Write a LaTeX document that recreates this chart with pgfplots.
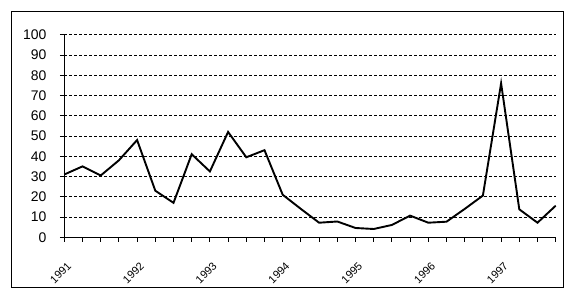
\documentclass[border=0pt]{standalone}
\usepackage{pgfplots}
\pgfplotsset{compat=1.18}
\usepackage{fontspec}
\setmainfont{Liberation Sans}
\begin{document}
\begin{tikzpicture}
\useasboundingbox (0,0) rectangle (573bp,298bp);
\draw[line width=1bp] (11.7bp,10.7bp) rectangle (563.3bp,286.3bp);
\begin{axis}[
 at={(64.3bp,60.7bp)}, anchor=south west,
 scale only axis, width=491.4bp, height=202.6bp,
 xmin=0, xmax=27, ymin=0, ymax=100,
 axis lines*=left, axis line style={line width=0.9bp},
 xtick={0,4,...,24},
 xticklabels={1991,1992,1993,1994,1995,1996,1997},
 minor xtick={0,...,27},
 ytick={0,10,...,100},
 tick align=outside, major tick length=4.3bp, minor tick length=4.3bp,
 tick style={black, line width=0.9bp},
 ymajorgrids, grid style={black, line width=0.8bp, dash pattern=on 3bp off 2bp},
 yticklabel style={font=\fontsize{14}{15}\selectfont, xshift=-10bp},
 xticklabel style={font=\fontsize{11}{12}\selectfont, rotate=45, anchor=north east, xshift=-9bp, yshift=-12bp},
 /pgf/number format/assume math mode=true,
 clip=false,
]
\addplot[black, line width=1.9bp] coordinates {
(0,31) (1,35) (2,30.5) (3,38) (4,48) (5,23) (6,17) (7,41) (8,32.5) (9,52)
(10,39.5) (11,43) (12,21) (13,14) (14,7.2) (15,7.8) (16,4.6) (17,4.1) (18,6.1) (19,10.7)
(20,7.2) (21,7.7) (22,14) (23,20.6) (24,76) (25,13.8) (26,7.2) (27,15.6)
};
\end{axis}
\end{tikzpicture}
\end{document}
